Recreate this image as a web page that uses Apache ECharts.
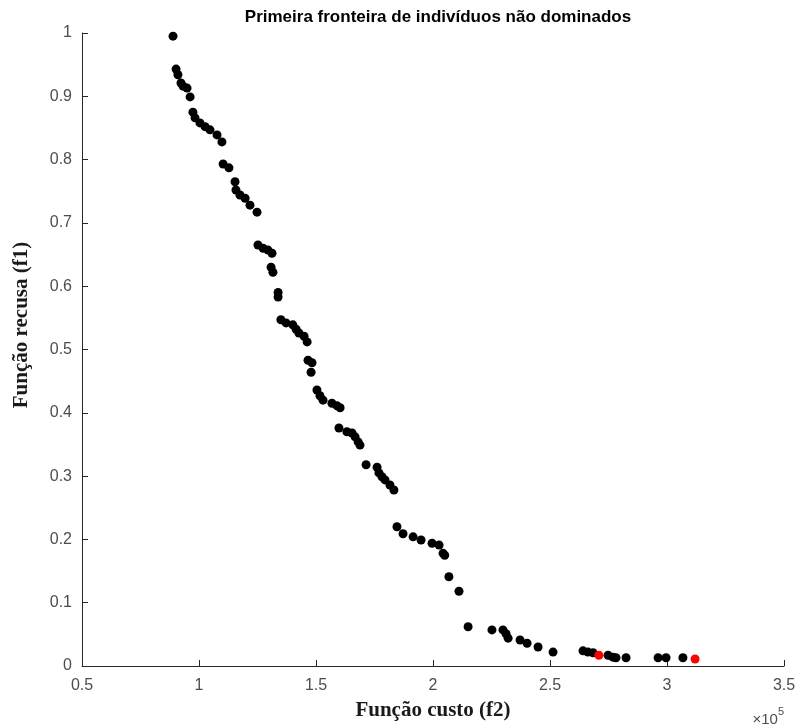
<!DOCTYPE html>
<html>
<head>
<meta charset="utf-8">
<title>Primeira fronteira</title>
<script src="https://cdn.jsdelivr.net/npm/echarts@6/dist/echarts.min.js"></script>
<style>
  html, body { margin: 0; padding: 0; background: #fff; }
  #chart { width: 798px; height: 727px; }
</style>
</head>
<body>
<div id="chart"></div>
<script>
// custo (x 1e5) e recusa dos indivíduos não dominados
const custo = [
  0.889, 0.902, 0.910, 0.923, 0.932, 0.949, 0.962, 0.974, 0.983, 1.004,
  1.026, 1.047, 1.077, 1.098, 1.103, 1.128, 1.154, 1.158, 1.175, 1.197,
  1.218, 1.248, 1.252, 1.274, 1.295, 1.312, 1.308, 1.316, 1.338, 1.338,
  1.350, 1.372, 1.401, 1.415, 1.427, 1.449, 1.462, 1.466, 1.483, 1.479,
  1.504, 1.517, 1.530, 1.568, 1.590, 1.603, 1.598, 1.632, 1.654, 1.667,
  1.680, 1.688, 1.714, 1.761, 1.769, 1.782, 1.795, 1.816, 1.833, 1.846,
  1.872, 1.915, 1.949, 1.996, 2.026, 2.043, 2.050, 2.068, 2.111, 2.150,
  2.252, 2.299, 2.312, 2.321, 2.372, 2.402, 2.449, 2.513, 2.641, 2.662,
  2.684, 2.748, 2.769, 2.782, 2.825, 2.962, 2.996, 3.068
]
const recusa = [
  0.995, 0.943, 0.934, 0.921, 0.916, 0.913, 0.899, 0.875, 0.866, 0.858,
  0.852, 0.847, 0.839, 0.828, 0.793, 0.787, 0.765, 0.752, 0.744, 0.739,
  0.728, 0.717, 0.665, 0.660, 0.657, 0.652, 0.630, 0.622, 0.590, 0.583,
  0.547, 0.542, 0.539, 0.532, 0.526, 0.521, 0.512, 0.483, 0.479, 0.464,
  0.436, 0.427, 0.420, 0.415, 0.411, 0.408, 0.376, 0.370, 0.368, 0.362,
  0.354, 0.349, 0.318, 0.314, 0.305, 0.299, 0.294, 0.286, 0.278, 0.220,
  0.209, 0.204, 0.199, 0.194, 0.191, 0.178, 0.175, 0.141, 0.118, 0.062,
  0.057, 0.057, 0.051, 0.044, 0.041, 0.036, 0.030, 0.022, 0.024, 0.022,
  0.021, 0.017, 0.014, 0.013, 0.013, 0.013, 0.013, 0.013
]
// pontos destacados em vermelho
const custoDestaque = [2.709, 3.120]
const recusaDestaque = [0.017, 0.011]

const xTicks = ['0.5', '1', '1.5', '2', '2.5', '3', '3.5']

const toPairs = (xs, ys) => xs.map((x, i) => [x, ys[i]])

const chart = echarts.init(document.getElementById('chart'))

const axisColor = '#262626'
const labelColor = '#4d4d4d'
const sans = 'Liberation Sans, Arial, sans-serif'
const serif = 'Liberation Serif, Times New Roman, serif'

chart.setOption({
  animation: false,
  title: {
    text: 'Primeira fronteira de indivíduos não dominados',
    left: 433,
    top: 4,
    textAlign: 'center',
    textStyle: { fontFamily: sans, fontSize: 17, fontWeight: 'bold', color: '#000' }
  },
  grid: { left: 82, right: 14, top: 33, bottom: 61, outerBoundsMode: 'none' },
  xAxis: {
    type: 'value',
    min: 0.5,
    max: 3.5,
    interval: 0.5,
    name: 'Função custo (f2)',
    nameLocation: 'middle',
    nameGap: 34,
    nameTextStyle: { fontFamily: serif, fontSize: 21, fontWeight: 'bold', color: '#1a1a1a' },
    splitLine: { show: false },
    axisLine: { lineStyle: { color: axisColor, width: 1 } },
    axisTick: { inside: true, length: 6, lineStyle: { color: axisColor } },
    axisLabel: {
      margin: 12,
      color: labelColor,
      fontFamily: sans,
      fontSize: 16,
      formatter: (v) => xTicks[Math.round((v - 0.5) / 0.5)]
    }
  },
  yAxis: {
    type: 'value',
    min: 0,
    max: 1,
    interval: 0.1,
    splitLine: { show: false },
    axisLine: { show: true, lineStyle: { color: axisColor, width: 1 } },
    axisTick: { show: true, inside: true, length: 6, lineStyle: { color: axisColor } },
    axisLabel: {
      margin: 10,
      color: labelColor,
      fontFamily: sans,
      fontSize: 16,
      formatter: (v) => String(Math.round(v * 10) / 10)
    }
  },
  graphic: [
    {
      // rótulo do eixo y, um pouco acima do centro como no original
      type: 'text',
      x: 22,
      y: 325,
      rotation: Math.PI / 2,
      style: {
        text: 'Função recusa (f1)',
        fontFamily: serif,
        fontSize: 21,
        fontWeight: 'bold',
        fill: '#1a1a1a',
        align: 'center',
        verticalAlign: 'middle'
      }
    },
    {
      type: 'text',
      right: 14,
      top: 706,
      style: {
        text: '{a|×10}{b|5}',
        rich: {
          a: { fontFamily: sans, fontSize: 15, fill: labelColor, verticalAlign: 'bottom' },
          b: { fontFamily: sans, fontSize: 11, fill: labelColor, verticalAlign: 'top', padding: [0, 0, 10, 0] }
        }
      }
    }
  ],
  series: [
    {
      type: 'scatter',
      data: toPairs(custo, recusa),
      symbolSize: 9,
      itemStyle: { color: '#000', opacity: 1 }
    },
    {
      type: 'scatter',
      data: toPairs(custoDestaque, recusaDestaque),
      symbolSize: 9,
      itemStyle: { color: '#ff0000', opacity: 1 }
    }
  ]
})
</script>
</body>
</html>
